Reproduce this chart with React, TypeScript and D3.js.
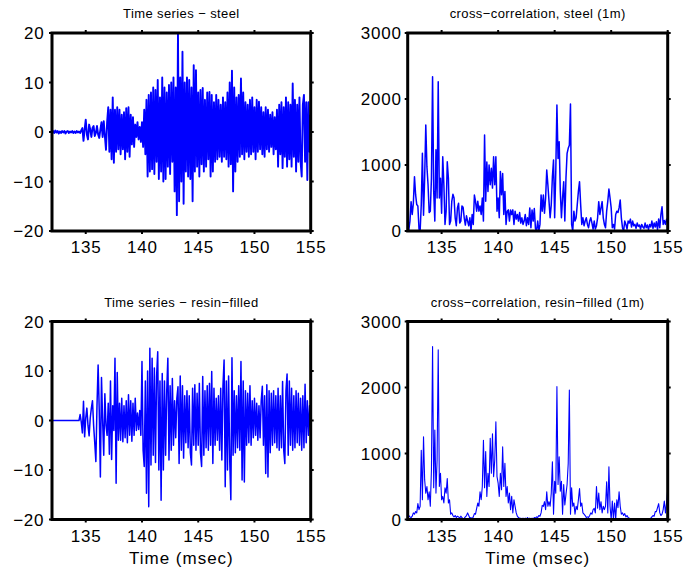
import React from "react";
import * as d3 from "d3";

// Sampling of all four records (msec)
const T0 = 132;
const DT = 0.1;
const X_DOMAIN = [132, 155];
const xTicks = [135, 140, 145, 150, 155];
const tsTicks = [-20, -10, 0, 10, 20];
const ccTicks = [0, 1000, 2000, 3000];

// Time series – steel (values every 0.1 ms from 132.0 to 155.0)
const steelTS = [
  0, 0.2, -0.2, 0.3, -0.1, 0.2, -0.3, 0.1, -0.2, 0.2,
  -0.1, 0.2, -0.3, 0.1, 0.2, -0.2, 0.1, -0.1, 0.2, -0.2,
  0.1, -0.2, 0.2, -0.1, 0.1, -0.2, 0.3, 0.8, -1.8, 0.5,
  2.5, -0.5, -1.5, 1.5, 0.5, -1.0, 0.8, 1.2, -0.8, -0.2,
  1.2, -0.5, -1.2, 0.5, 2.0, -1.0, 2.2, -0.8, -3.6, 2.0,
  5.0, -4.0, 4.5, -5.5, 7.0, -6.2, 4.5, -4.0, 5.0, -3.5,
  4.5, -4.5, 3.5, -3.5, 4.0, -5.5, 4.8, -4.0, 5.0, -5.0,
  3.5, -2.5, 3.0, -3.0, 1.5, -1.0, 2.0, -1.5, 1.0, -2.0,
  2.0, -3.0, 4.5, -4.5, 6.5, -9.0, 7.5, -8.0, 8.0, -7.5,
  9.0, -8.5, 8.5, -6.0, 10.5, -9.5, 7.0, -8.0, 11.0, -10.0,
  9.0, -9.5, 8.0, -7.0, 9.5, -8.5, 10.0, -6.0, 11.0, -12.0,
  9.0, -16.8, 20.0, -14.0, 11.0, -10.0, 16.2, -14.5, 10.0, -8.0,
  11.0, -9.0, 10.5, -9.5, 9.0, -14.0, 13.5, -8.0, 12.5, -7.0,
  8.0, -9.0, 8.5, -6.5, 8.9, -8.0, 6.5, -7.0, 8.0, -5.5,
  8.1, -9.0, 7.5, -8.0, 6.0, -6.0, 7.5, -5.5, 6.5, -5.0,
  5.5, -6.0, 7.0, -5.0, 6.0, -5.5, 8.0, -7.0, 10.0, -6.5,
  12.4, -12.0, 9.0, -8.0, 7.0, -6.0, 7.5, -5.0, 10.8, -4.5,
  8.0, -5.5, 6.0, -4.0, 5.5, -5.0, 6.5, -4.5, 7.0, -4.0,
  5.0, -5.5, 6.5, -4.0, 6.1, -3.5, 5.0, -4.5, 4.0, -5.0,
  5.0, -3.5, 4.5, -4.0, 3.5, -3.0, 4.0, -4.5, 3.0, -3.5,
  4.5, -7.0, 5.5, -4.5, 6.0, -7.3, 5.0, -5.0, 7.0, -7.0,
  6.0, -5.5, 5.5, -7.0, 9.8, -5.0, 6.5, -8.0, 5.5, -6.0,
  7.0, -6.0, -9.0, 5.5, 7.5, -6.0, 6.0, -9.7, 6.0, -4.0,
  3.5,
];

// Time series – resin-filled
const resinTS = [
  0, 0, 0, 0, 0, 0, 0, 0, 0, 0,
  0, 0, 0, 0, 0, 0, 0, 0, 0, 0,
  0, 0, 0, 0, 0, 1.2, -0.3, -2.5, 3.9, -3.3,
  0.5, 2.5, -1.0, -3.1, 0.5, 2.5, 4.0, -1.0, -4.5, -8.3,
  3.0, 11.2, 2.0, -11.4, 8.7, 0, -7.0, 5.4, -1.0, -3.0,
  3.5, -6.8, 8.0, -7.9, 3.0, -2.0, 12.6, -12.7, 9.7, -4.0,
  3.5, -4.0, 4.5, -4.3, 3.0, -3.5, 4.0, -4.5, 5.2, -3.0,
  4.0, -4.2, 3.5, -3.0, 4.5, -2.0, 1.5, -1.8, 2.0, -3.0,
  11.9, -6.0, -9.3, 8.0, -14.7, 10.0, -17.4, 14.6, -9.0, 12.6,
  -7.0, 10.6, -8.5, 9.0, 13.9, -10.0, 8.0, -16.1, 9.5, -10.0,
  8.0, -7.0, 6.0, 12.6, -8.0, 7.0, -6.0, 8.5, -5.0, 4.0,
  -3.5, 4.5, 6.8, -8.7, 9.0, -6.0, 7.0, -7.6, 5.0, -4.5,
  6.0, -5.5, 5.0, -6.5, -9.0, 6.5, -5.0, 7.2, -6.0, 5.5,
  -5.0, 7.5, -6.5, -9.3, 8.9, -7.0, 6.0, -5.5, 7.0, -6.0,
  7.5, -5.0, 9.9, -8.7, 6.5, -5.0, 4.5, -4.0, 5.0, -6.0,
  6.5, -8.0, 7.0, 12.2, -13.4, 8.0, -10.0, 9.0, -8.0, -16.0,
  12.7, -7.0, 6.0, -6.5, 5.0, -5.5, 7.0, -6.0, 11.9, -12.0,
  8.0, -12.4, 6.0, -5.0, 5.5, -4.5, 7.0, -5.0, 4.0, -3.5,
  4.5, -3.0, 3.5, -4.0, 3.0, -3.5, 4.0, 6.9, -5.0, 5.0,
  -10.7, 7.2, -11.4, 6.0, -6.5, 5.5, -5.0, 6.0, -4.5, 5.0,
  -5.5, 6.5, -6.0, 5.0, -5.5, 7.9, -6.0, -8.7, 6.0, 9.4,
  -7.0, 8.0, -5.0, 6.5, -6.0, 5.0, -5.5, 6.0, -4.5, 5.5,
  -5.0, 4.5, -6.0, 5.0, -5.5, 7.3, -4.5, 4.0, -3.0, 3.0,
  -2.5,
];

// cross-correlation, steel (1m)
const steelCC = [
  100, 20, 150, 445, 250, 420, 823, 550, 400, 380,
  30, 0, 400, 1177, 240, 800, 1606, 975, 700, 280,
  300, 800, 2338, 600, 150, 1230, 500, 2262, 500, 800,
  270, 1126, 700, 100, 300, 1050, 800, 100, 150, 450,
  556, 500, 200, 80, 350, 420, 120, 150, 380, 360,
  200, 90, 230, 150, 80, 200, 0, 250, 100, 545,
  450, 300, 450, 300, 380, 250, 500, 150, 1454, 450,
  1045, 600, 1000, 700, 950, 650, 1126, 700, 1126, 300,
  500, 200, 900, 550, 870, 250, 600, 100, 300, 320,
  150, 320, 250, 320, 100, 300, 180, 250, 150, 280,
  120, 200, 100, 150, 250, 80, 200, 100, 350, 50,
  320, 150, 340, 40, 0, 150, 0, 100, 545, 300,
  545, 270, 500, 924, 700, 450, 200, 400, 823, 1075,
  200, 900, 1909, 1100, 1353, 600, 200, 500, 747, 150,
  800, 1177, 1253, 1300, 1924, 100, 0, 300, 150, 200,
  400, 600, 747, 400, 100, 200, 80, 150, 200, 100,
  50, 150, 200, 120, 30, 150, 30, 80, 200, 445,
  250, 350, 445, 200, 100, 50, 300, 450, 636, 500,
  350, 50, 100, 30, 250, 300, 280, 350, 470, 200,
  50, 0, 150, 100, 30, 150, 120, 180, 60, 150,
  80, 100, 40, 120, 70, 90, 30, 100, 60, 40,
  120, 50, 90, 20, 100, 60, 150, 40, 120, 60,
  140, 20, 180, 50, 250, 368, 100, 160, 100, 180,
  150,
];

// cross-correlation, resin-filled (1m)
const resinCC = [
  80, 60, 40, 30, 50, 100, 80, 120, 100, 240,
  150, 200, 1050, 300, 1254, 600, 400, 500, 300, 420,
  200, 750, 2620, 480, 1355, 400, 900, 2570, 500, 700,
  300, 350, 250, 480, 400, 620, 250, 300, 80, 100,
  60, 40, 60, 30, 50, 40, 20, 50, 30, 10,
  20, 40, 60, 100, 60, 20, 30, 10, 40, 90,
  80, 170, 250, 200, 420, 300, 500, 1200, 480, 1030,
  350, 700, 500, 1230, 700, 1300, 650, 900, 1480, 650,
  550, 350, 700, 450, 1100, 500, 850, 350, 500, 250,
  400, 150, 350, 100, 300, 200, 100, 50, 30, 20,
  20, 10, 20, 10, 20, 10, 30, 10, 20, 10,
  20, 10, 30, 20, 40, 30, 60, 50, 100, 215,
  200, 270, 150, 420, 200, 270, 200, 400, 875, 80,
  580, 400, 2013, 530, 950, 430, 580, 80, 530, 220,
  380, 530, 850, 1963, 80, 480, 200, 250, 80, 200,
  150, 300, 470, 200, 250, 100, 80, 60, 30, 40,
  30, 60, 100, 80, 150, 170, 100, 500, 170, 400,
  150, 270, 100, 200, 150, 200, 570, 100, 800, 200,
  0, 280, 0, 250, 0, 300, 180, 420, 200, 80,
  100, 60, 90, 40, 60, 30, 20, 10, 15, 10,
  10, 5, 10, 5, 8, 5, 10, 5, 8, 5,
  10, 5, 10, 8, 15, 20, 40, 60, 50, 120,
  120, 180, 240, 100, 60, 80, 150, 280, 100, 250,
  450,
];

const FONT = "'Liberation Sans', Arial, Helvetica, sans-serif";
const BLUE = "#0000ff";

const fmt = (d: number) => (d < 0 ? "\u2212" + Math.abs(d) : String(d));

type PanelProps = {
  id: string;
  x0: number;
  y0: number;
  w: number;
  h: number;
  title: string;
  values: number[];
  yDomain: [number, number];
  yTicks: number[];
  labelGap: number;
  lineWidth: number;
  xlabel?: string;
};

function Panel({ id, x0, y0, w, h, title, values, yDomain, yTicks, labelGap, lineWidth, xlabel }: PanelProps) {
  const x = d3.scaleLinear().domain(X_DOMAIN).range([x0, x0 + w]);
  const y = d3.scaleLinear().domain(yDomain).range([y0 + h, y0]);
  const line = d3
    .line<number>()
    .x((_, i) => x(T0 + i * DT))
    .y((d) => y(d));
  const tk = 3;
  return (
    <g>
      <defs>
        <clipPath id={id}>
          <rect x={x0} y={y0 - 1} width={w} height={h + 2} />
        </clipPath>
      </defs>
      <text
        x={x0 + w / 2}
        y={y0 - 15}
        textAnchor="middle"
        fontFamily={FONT}
        fontSize={13}
        letterSpacing={0.4}
        fill="#000"
      >
        {title}
      </text>
      <path
        d={line(values) || ""}
        fill="none"
        stroke={BLUE}
        strokeWidth={lineWidth}
        strokeLinejoin="round"
        clipPath={`url(#${id})`}
      />
      {xTicks.map((t) => (
        <g key={"x" + t}>
          <line x1={x(t)} x2={x(t)} y1={y0 + h} y2={y0 + h + tk} stroke="#000" strokeWidth={2} />
          <line x1={x(t)} x2={x(t)} y1={y0} y2={y0 - tk} stroke="#000" strokeWidth={2} />
          <text
            x={x(t) + 0.4}
            y={y0 + h + 22}
            textAnchor="middle"
            fontFamily={FONT}
            fontSize={17}
            letterSpacing={0.8}
            fill="#000"
          >
            {fmt(t)}
          </text>
        </g>
      ))}
      {yTicks.map((t) => (
        <g key={"y" + t}>
          <line x1={x0} x2={x0 - tk} y1={y(t)} y2={y(t)} stroke="#000" strokeWidth={2} />
          <line x1={x0 + w} x2={x0 + w + tk} y1={y(t)} y2={y(t)} stroke="#000" strokeWidth={2} />
          <text
            x={x0 - labelGap}
            y={y(t)}
            dy="0.36em"
            textAnchor="end"
            fontFamily={FONT}
            fontSize={17}
            letterSpacing={0.8}
            fill="#000"
          >
            {fmt(t)}
          </text>
        </g>
      ))}
      <rect x={x0} y={y0} width={w} height={h} fill="none" stroke="#000" strokeWidth={3} />
      {xlabel && (
        <text
          x={x0 + w / 2}
          y={y0 + h + 44}
          textAnchor="middle"
          fontFamily={FONT}
          fontSize={17}
          letterSpacing={1}
          fill="#000"
        >
          {xlabel}
        </text>
      )}
    </g>
  );
}

export default function App() {
  const LX = 52;
  const RX = 407.7;
  const W = 259.5;
  const TY = 33;
  const BY = 321.5;
  const H = 198;
  return (
    <svg width={685} height={574} style={{ position: "absolute", left: 0, top: 0, background: "#fff" }}>
      <rect x={0} y={0} width={685} height={574} fill="#fff" />
      <Panel
        id="c1"
        x0={LX}
        y0={TY}
        w={W - 0.8}
        h={H}
        title={"Time series \u2212 steel"}
        values={steelTS}
        yDomain={[-20, 20]}
        yTicks={tsTicks}
        labelGap={7.6}
        lineWidth={1.9}
      />
      <Panel
        id="c2"
        x0={RX}
        y0={TY}
        w={W + 0.5}
        h={H}
        title={"cross\u2212correlation, steel (1m)"}
        values={steelCC}
        yDomain={[0, 3000]}
        yTicks={ccTicks}
        labelGap={6}
        lineWidth={1.5}
      />
      <Panel
        id="c3"
        x0={LX}
        y0={BY}
        w={W - 0.8}
        h={H}
        title={"Time series \u2212 resin\u2212filled"}
        values={resinTS}
        yDomain={[-20, 20]}
        yTicks={tsTicks}
        labelGap={7.6}
        lineWidth={1.5}
        xlabel="Time (msec)"
      />
      <Panel
        id="c4"
        x0={RX}
        y0={BY}
        w={W + 0.5}
        h={H}
        title={"cross\u2212correlation, resin\u2212filled (1m)"}
        values={resinCC}
        yDomain={[0, 3000]}
        yTicks={ccTicks}
        labelGap={6}
        lineWidth={1.1}
        xlabel="Time (msec)"
      />
    </svg>
  );
}
